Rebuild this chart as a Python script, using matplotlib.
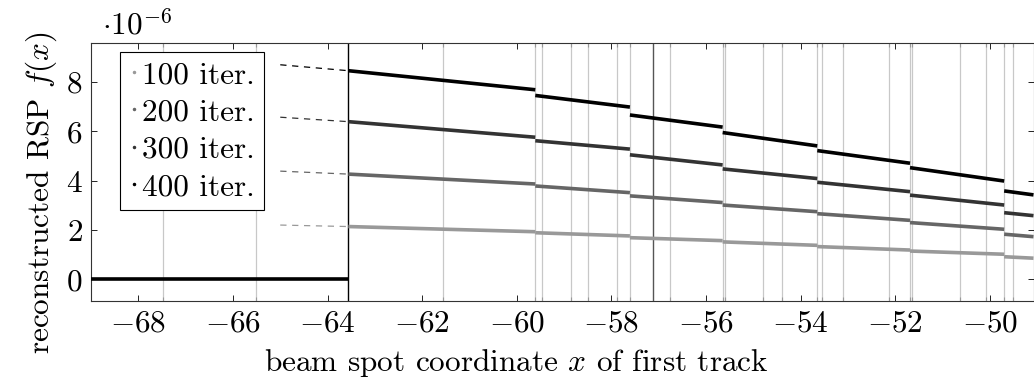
import matplotlib
matplotlib.use("Agg")
import matplotlib.pyplot as plt
from matplotlib.lines import Line2D

plt.rcParams['font.family'] = 'serif'
plt.rcParams['font.serif'] = ['cmr10']
plt.rcParams['mathtext.fontset'] = 'cm'
plt.rcParams['axes.formatter.use_mathtext'] = True

# segment borders (x) and values (in 1e-6) at segment start / end
seg_x0 = [-63.56, -59.61, -57.61, -55.65, -53.65, -51.69, -49.70]
seg_x1 = [-59.61, -57.61, -55.65, -53.65, -51.69, -49.70, -49.08]

y0_400 = [8.44, 7.44, 6.65, 5.94, 5.21, 4.52, 3.58]
y1_400 = [7.67, 6.97, 6.16, 5.40, 4.70, 3.98, 3.42]
y0_300 = [6.38, 5.61, 5.04, 4.47, 3.93, 3.41, 2.70]
y1_300 = [5.75, 5.27, 4.63, 4.08, 3.55, 3.01, 2.58]
y0_200 = [4.26, 3.78, 3.38, 3.01, 2.66, 2.30, 1.83]
y1_200 = [3.86, 3.51, 3.11, 2.74, 2.39, 2.03, 1.73]
y0_100 = [2.14, 1.89, 1.69, 1.52, 1.33, 1.15, 0.92]
y1_100 = [1.93, 1.76, 1.57, 1.38, 1.19, 1.02, 0.86]

# dashed extrapolation start (x = -65)
dash_x = -65.0
dash_y = [2.20, 4.38, 6.56, 8.68]   # 100, 200, 300, 400

labels = ['100 iter.', '200 iter.', '300 iter.', '400 iter.']
colors = ['#999999', '#666666', '#333333', '#000000']

zero_x = [-69.0, -63.56]

# vertical track lines
track_x = [-67.47, -65.52, -61.56, -59.61, -59.46, -58.86, -58.50, -57.88,
           -57.61, -56.76, -55.65, -55.60, -54.79, -54.40, -53.65, -53.56,
           -53.10, -52.14, -51.69, -51.65, -50.64, -50.09, -49.70, -49.51]
edge_x = [-63.56, -57.12]

fs = 22.5

fig = plt.figure(figsize=(10.34, 3.83), dpi=100)
ax = fig.add_axes([91 / 1034, (383 - 301) / 383, 942.5 / 1034, 258 / 383])

ax.set_xticks(track_x, minor=True)
ax.grid(which='minor', axis='x', color='#c8c8c8', lw=0.9)
ax.axvline(edge_x[0], color='black', lw=1.0, zorder=1)
ax.axvline(edge_x[1], color='#555555', lw=1.0, zorder=1)

ys = [(y0_100, y1_100), (y0_200, y1_200), (y0_300, y1_300), (y0_400, y1_400)]
for i, (a, b) in enumerate(ys):
    for k in range(len(seg_x0)):
        ax.plot([seg_x0[k], seg_x1[k]], [a[k], b[k]], color=colors[i], lw=2.6,
                solid_capstyle='butt', zorder=3)
    ax.plot([dash_x, seg_x0[0]], [dash_y[i], a[0]], color=colors[i], lw=0.9,
            dashes=(5, 4.5), zorder=3)

ax.plot(zero_x, [0, 0], color='black', lw=2.6, solid_capstyle='butt', zorder=3)

ax.set_xlim(-69.0, -49.08)
ax.set_ylim(-0.87, 9.56)
ax.set_xticks(range(-68, -49, 2))
ax.set_yticks(range(0, 9, 2))
ax.tick_params(which='major', direction='in', length=4.5, width=0.6,
               top=True, right=True, labelsize=fs, colors='black', pad=6)
ax.tick_params(which='minor', direction='in', length=3, width=0.8,
               top=True, bottom=True, color='#999999')
for s in ax.spines.values():
    s.set_linewidth(0.8)
    s.set_color('#333333')

ax.set_xlabel('beam spot coordinate $x$ of first track', fontsize=fs, labelpad=7)
ax.set_ylabel('reconstructed RSP $f(x)$', fontsize=fs, labelpad=5)
ax.xaxis.label.set_x(0.451)
ax.yaxis.label.set_y(0.42)
ax.text(0.012, 1.031, r'$\cdot 10^{-6}$', transform=ax.transAxes,
        fontsize=fs, va='baseline', ha='left')

handles = [Line2D([], [], color=c, marker='.', markersize=3, linestyle='none')
           for c in colors]
leg = ax.legend(handles, labels, loc='upper left', bbox_to_anchor=(0.031, 0.966),
                borderaxespad=0, fontsize=fs, handlelength=0.3, handletextpad=0.1,
                labelspacing=0.3, borderpad=0.3, fancybox=False, framealpha=1,
                edgecolor='black')
leg.get_frame().set_linewidth(0.8)

fig.savefig('out.png', dpi=100)
